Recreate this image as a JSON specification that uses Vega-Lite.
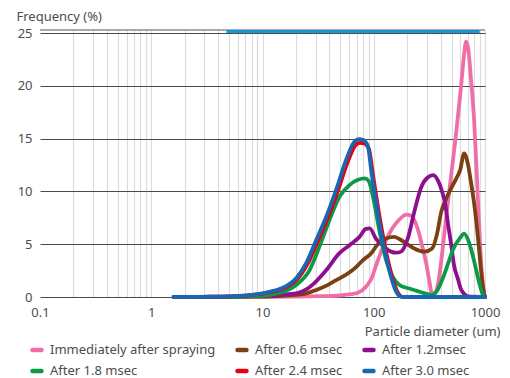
{
  "$schema": "https://vega.github.io/schema/vega-lite/v6.json",
  "width": 445,
  "height": 267,
  "autosize": {"type": "none"},
  "padding": {"left": 40, "top": 30, "right": 25, "bottom": 81},
  "background": "white",
  "config": {"view": {"stroke": null}, "font": "Noto Sans"},
  "datasets": {
    "frame": [{"d": 0.1, "d2": 1000, "f": 25.3}],
    "band": [{"d": 4.74, "d2": 896, "f": 25.15}],
    "curves": [
      {"s": "Immediately after spraying", "d": 1.6, "f": 0},
      {"s": "Immediately after spraying", "d": 10, "f": 0.01},
      {"s": "Immediately after spraying", "d": 20, "f": 0.03},
      {"s": "Immediately after spraying", "d": 35, "f": 0.08},
      {"s": "Immediately after spraying", "d": 46, "f": 0.12},
      {"s": "Immediately after spraying", "d": 60, "f": 0.25},
      {"s": "Immediately after spraying", "d": 72, "f": 0.4},
      {"s": "Immediately after spraying", "d": 85.5, "f": 1.0},
      {"s": "Immediately after spraying", "d": 95, "f": 1.7},
      {"s": "Immediately after spraying", "d": 105, "f": 3.0},
      {"s": "Immediately after spraying", "d": 116.5, "f": 4.3},
      {"s": "Immediately after spraying", "d": 129, "f": 5.4},
      {"s": "Immediately after spraying", "d": 143, "f": 6.3},
      {"s": "Immediately after spraying", "d": 159, "f": 7.0},
      {"s": "Immediately after spraying", "d": 176, "f": 7.5},
      {"s": "Immediately after spraying", "d": 195, "f": 7.8},
      {"s": "Immediately after spraying", "d": 217, "f": 7.7},
      {"s": "Immediately after spraying", "d": 240, "f": 6.9},
      {"s": "Immediately after spraying", "d": 251, "f": 6.3},
      {"s": "Immediately after spraying", "d": 267, "f": 5.2},
      {"s": "Immediately after spraying", "d": 296, "f": 3.2},
      {"s": "Immediately after spraying", "d": 315, "f": 1.6},
      {"s": "Immediately after spraying", "d": 335, "f": 0.3},
      {"s": "Immediately after spraying", "d": 356, "f": 0.4},
      {"s": "Immediately after spraying", "d": 379, "f": 1.3},
      {"s": "Immediately after spraying", "d": 403, "f": 3.3},
      {"s": "Immediately after spraying", "d": 447, "f": 7.5},
      {"s": "Immediately after spraying", "d": 496, "f": 11.5},
      {"s": "Immediately after spraying", "d": 550, "f": 15.5},
      {"s": "Immediately after spraying", "d": 610, "f": 20.0},
      {"s": "Immediately after spraying", "d": 649, "f": 23.0},
      {"s": "Immediately after spraying", "d": 676, "f": 24.2},
      {"s": "Immediately after spraying", "d": 705, "f": 23.6},
      {"s": "Immediately after spraying", "d": 750, "f": 20.5},
      {"s": "Immediately after spraying", "d": 798, "f": 16.8},
      {"s": "Immediately after spraying", "d": 849, "f": 11.0},
      {"s": "Immediately after spraying", "d": 903, "f": 5.0},
      {"s": "Immediately after spraying", "d": 961, "f": 1.0},
      {"s": "Immediately after spraying", "d": 1000, "f": 0},

      {"s": "After 0.6 msec", "d": 1.6, "f": 0},
      {"s": "After 0.6 msec", "d": 8, "f": 0.03},
      {"s": "After 0.6 msec", "d": 15, "f": 0.12},
      {"s": "After 0.6 msec", "d": 20, "f": 0.2},
      {"s": "After 0.6 msec", "d": 25, "f": 0.35},
      {"s": "After 0.6 msec", "d": 30.4, "f": 0.66},
      {"s": "After 0.6 msec", "d": 38, "f": 1.1},
      {"s": "After 0.6 msec", "d": 46, "f": 1.6},
      {"s": "After 0.6 msec", "d": 55, "f": 2.05},
      {"s": "After 0.6 msec", "d": 64.6, "f": 2.55},
      {"s": "After 0.6 msec", "d": 72, "f": 3.0},
      {"s": "After 0.6 msec", "d": 80, "f": 3.5},
      {"s": "After 0.6 msec", "d": 95, "f": 4.15},
      {"s": "After 0.6 msec", "d": 105, "f": 4.8},
      {"s": "After 0.6 msec", "d": 116.5, "f": 5.3},
      {"s": "After 0.6 msec", "d": 129, "f": 5.55},
      {"s": "After 0.6 msec", "d": 153, "f": 5.7},
      {"s": "After 0.6 msec", "d": 176, "f": 5.4},
      {"s": "After 0.6 msec", "d": 200, "f": 5.0},
      {"s": "After 0.6 msec", "d": 231, "f": 4.6},
      {"s": "After 0.6 msec", "d": 285, "f": 4.3},
      {"s": "After 0.6 msec", "d": 335, "f": 4.6},
      {"s": "After 0.6 msec", "d": 371, "f": 6.0},
      {"s": "After 0.6 msec", "d": 403, "f": 8.0},
      {"s": "After 0.6 msec", "d": 447, "f": 9.3},
      {"s": "After 0.6 msec", "d": 496, "f": 10.3},
      {"s": "After 0.6 msec", "d": 550, "f": 11.2},
      {"s": "After 0.6 msec", "d": 597, "f": 12.0},
      {"s": "After 0.6 msec", "d": 649, "f": 13.6},
      {"s": "After 0.6 msec", "d": 705, "f": 12.5},
      {"s": "After 0.6 msec", "d": 750, "f": 10.8},
      {"s": "After 0.6 msec", "d": 798, "f": 8.9},
      {"s": "After 0.6 msec", "d": 867, "f": 5.5},
      {"s": "After 0.6 msec", "d": 922, "f": 2.5},
      {"s": "After 0.6 msec", "d": 982, "f": 0.3},
      {"s": "After 0.6 msec", "d": 1000, "f": 0},

      {"s": "After 1.2msec", "d": 1.6, "f": 0},
      {"s": "After 1.2msec", "d": 5, "f": 0.02},
      {"s": "After 1.2msec", "d": 10, "f": 0.1},
      {"s": "After 1.2msec", "d": 15, "f": 0.22},
      {"s": "After 1.2msec", "d": 20.1, "f": 0.35},
      {"s": "After 1.2msec", "d": 25, "f": 0.75},
      {"s": "After 1.2msec", "d": 28.4, "f": 1.2},
      {"s": "After 1.2msec", "d": 37.4, "f": 2.55},
      {"s": "After 1.2msec", "d": 49.2, "f": 4.15},
      {"s": "After 1.2msec", "d": 60.5, "f": 4.9},
      {"s": "After 1.2msec", "d": 74.4, "f": 5.7},
      {"s": "After 1.2msec", "d": 85, "f": 6.45},
      {"s": "After 1.2msec", "d": 92, "f": 6.5},
      {"s": "After 1.2msec", "d": 105, "f": 5.5},
      {"s": "After 1.2msec", "d": 116.5, "f": 5.0},
      {"s": "After 1.2msec", "d": 129, "f": 4.6},
      {"s": "After 1.2msec", "d": 143, "f": 4.3},
      {"s": "After 1.2msec", "d": 159, "f": 4.2},
      {"s": "After 1.2msec", "d": 176, "f": 4.3},
      {"s": "After 1.2msec", "d": 203, "f": 5.6},
      {"s": "After 1.2msec", "d": 233, "f": 8.2},
      {"s": "After 1.2msec", "d": 267, "f": 10.4},
      {"s": "After 1.2msec", "d": 303, "f": 11.3},
      {"s": "After 1.2msec", "d": 343, "f": 11.55},
      {"s": "After 1.2msec", "d": 379, "f": 11.0},
      {"s": "After 1.2msec", "d": 411, "f": 10.0},
      {"s": "After 1.2msec", "d": 439, "f": 8.8},
      {"s": "After 1.2msec", "d": 467, "f": 6.8},
      {"s": "After 1.2msec", "d": 496, "f": 5.0},
      {"s": "After 1.2msec", "d": 527, "f": 3.0},
      {"s": "After 1.2msec", "d": 571, "f": 1.7},
      {"s": "After 1.2msec", "d": 610, "f": 0.7},
      {"s": "After 1.2msec", "d": 649, "f": 0.3},
      {"s": "After 1.2msec", "d": 705, "f": 0.05},
      {"s": "After 1.2msec", "d": 1000, "f": 0},

      {"s": "After 1.8 msec", "d": 1.6, "f": 0},
      {"s": "After 1.8 msec", "d": 5, "f": 0.02},
      {"s": "After 1.8 msec", "d": 10, "f": 0.12},
      {"s": "After 1.8 msec", "d": 13, "f": 0.3},
      {"s": "After 1.8 msec", "d": 16, "f": 0.55},
      {"s": "After 1.8 msec", "d": 20.1, "f": 1.14},
      {"s": "After 1.8 msec", "d": 26.5, "f": 2.55},
      {"s": "After 1.8 msec", "d": 32.5, "f": 4.77},
      {"s": "After 1.8 msec", "d": 40, "f": 7.3},
      {"s": "After 1.8 msec", "d": 49.2, "f": 9.5},
      {"s": "After 1.8 msec", "d": 60.5, "f": 10.6},
      {"s": "After 1.8 msec", "d": 72, "f": 11.1},
      {"s": "After 1.8 msec", "d": 82.6, "f": 11.25},
      {"s": "After 1.8 msec", "d": 90, "f": 11.0},
      {"s": "After 1.8 msec", "d": 98.5, "f": 9.5},
      {"s": "After 1.8 msec", "d": 112, "f": 6.35},
      {"s": "After 1.8 msec", "d": 129, "f": 3.5},
      {"s": "After 1.8 msec", "d": 148, "f": 1.9},
      {"s": "After 1.8 msec", "d": 170, "f": 1.14},
      {"s": "After 1.8 msec", "d": 209, "f": 0.8},
      {"s": "After 1.8 msec", "d": 240, "f": 0.6},
      {"s": "After 1.8 msec", "d": 267, "f": 0.45},
      {"s": "After 1.8 msec", "d": 296, "f": 0.3},
      {"s": "After 1.8 msec", "d": 335, "f": 0.2},
      {"s": "After 1.8 msec", "d": 371, "f": 0.6},
      {"s": "After 1.8 msec", "d": 411, "f": 1.6},
      {"s": "After 1.8 msec", "d": 467, "f": 3.2},
      {"s": "After 1.8 msec", "d": 516, "f": 4.5},
      {"s": "After 1.8 msec", "d": 597, "f": 5.6},
      {"s": "After 1.8 msec", "d": 649, "f": 6.0},
      {"s": "After 1.8 msec", "d": 705, "f": 5.4},
      {"s": "After 1.8 msec", "d": 765, "f": 4.2},
      {"s": "After 1.8 msec", "d": 815, "f": 3.0},
      {"s": "After 1.8 msec", "d": 885, "f": 1.4},
      {"s": "After 1.8 msec", "d": 942, "f": 0.4},
      {"s": "After 1.8 msec", "d": 1000, "f": 0},

      {"s": "After 2.4 msec", "d": 1.6, "f": 0},
      {"s": "After 2.4 msec", "d": 3, "f": 0.02},
      {"s": "After 2.4 msec", "d": 5, "f": 0.06},
      {"s": "After 2.4 msec", "d": 8, "f": 0.18},
      {"s": "After 2.4 msec", "d": 10, "f": 0.32},
      {"s": "After 2.4 msec", "d": 13, "f": 0.55},
      {"s": "After 2.4 msec", "d": 16.2, "f": 0.9},
      {"s": "After 2.4 msec", "d": 20.6, "f": 1.7},
      {"s": "After 2.4 msec", "d": 25.3, "f": 3.1},
      {"s": "After 2.4 msec", "d": 31.2, "f": 5.2},
      {"s": "After 2.4 msec", "d": 38.3, "f": 7.4},
      {"s": "After 2.4 msec", "d": 47, "f": 9.9},
      {"s": "After 2.4 msec", "d": 57.9, "f": 12.7},
      {"s": "After 2.4 msec", "d": 68.7, "f": 14.4},
      {"s": "After 2.4 msec", "d": 75.3, "f": 14.6},
      {"s": "After 2.4 msec", "d": 82, "f": 14.55},
      {"s": "After 2.4 msec", "d": 90.7, "f": 14.0},
      {"s": "After 2.4 msec", "d": 97.4, "f": 11.9},
      {"s": "After 2.4 msec", "d": 107.6, "f": 8.9},
      {"s": "After 2.4 msec", "d": 120, "f": 6.0},
      {"s": "After 2.4 msec", "d": 132, "f": 3.8},
      {"s": "After 2.4 msec", "d": 146.6, "f": 1.9},
      {"s": "After 2.4 msec", "d": 163, "f": 0.5},
      {"s": "After 2.4 msec", "d": 180, "f": 0.02},
      {"s": "After 2.4 msec", "d": 200, "f": 0},
      {"s": "After 2.4 msec", "d": 1000, "f": 0},

      {"s": "After 3.0 msec", "d": 1.58, "f": 0},
      {"s": "After 3.0 msec", "d": 3, "f": 0.02},
      {"s": "After 3.0 msec", "d": 5, "f": 0.06},
      {"s": "After 3.0 msec", "d": 8, "f": 0.2},
      {"s": "After 3.0 msec", "d": 10, "f": 0.35},
      {"s": "After 3.0 msec", "d": 12.8, "f": 0.6},
      {"s": "After 3.0 msec", "d": 15.8, "f": 0.95},
      {"s": "After 3.0 msec", "d": 20.1, "f": 1.77},
      {"s": "After 3.0 msec", "d": 24.7, "f": 3.2},
      {"s": "After 3.0 msec", "d": 30.4, "f": 5.4},
      {"s": "After 3.0 msec", "d": 37.4, "f": 7.6},
      {"s": "After 3.0 msec", "d": 45.9, "f": 10.15},
      {"s": "After 3.0 msec", "d": 56.5, "f": 13.0},
      {"s": "After 3.0 msec", "d": 67, "f": 14.7},
      {"s": "After 3.0 msec", "d": 73.5, "f": 14.95},
      {"s": "After 3.0 msec", "d": 80, "f": 14.9},
      {"s": "After 3.0 msec", "d": 88.5, "f": 14.3},
      {"s": "After 3.0 msec", "d": 95, "f": 12.0},
      {"s": "After 3.0 msec", "d": 105, "f": 8.9},
      {"s": "After 3.0 msec", "d": 117, "f": 6.0},
      {"s": "After 3.0 msec", "d": 129, "f": 3.8},
      {"s": "After 3.0 msec", "d": 143, "f": 1.9},
      {"s": "After 3.0 msec", "d": 159, "f": 0.5},
      {"s": "After 3.0 msec", "d": 176, "f": 0.02},
      {"s": "After 3.0 msec", "d": 200, "f": 0},
      {"s": "After 3.0 msec", "d": 1000, "f": 0}
    ]
  },
  "encoding": {
    "x": {
      "field": "d",
      "type": "quantitative",
      "scale": {"type": "log", "domain": [0.1, 1000], "nice": false},
      "axis": {
        "values": [0.1, 0.2, 0.3, 0.4, 0.5, 0.6, 0.7, 0.8, 0.9, 1, 2, 3, 4, 5, 6, 7, 8, 9, 10, 20, 30, 40, 50, 60, 70, 80, 90, 100, 200, 300, 400, 500, 600, 700, 800, 900, 1000],
        "labelExpr": "datum.value == 0.1 ? '0.1' : datum.value == 1 ? '1' : datum.value == 10 ? '10' : datum.value == 100 ? '100' : datum.value == 1000 ? '1000' : ''",
        "grid": true,
        "gridColor": "#dcdcdc",
        "gridWidth": 1.2,
        "gridOpacity": {"condition": {"test": "datum.value == 0.1", "value": 0}, "value": 1},
        "ticks": false,
        "tickSize": 0,
        "domain": false,
        "labelBaseline": "alphabetic",
        "labelPadding": 19,
        "labelFontSize": 13,
        "labelColor": "#4d4d4d",
        "labelFlush": false,
        "labelOverlap": false,
        "title": "Particle diameter (um)",
        "titleFontSize": 13,
        "titleFontWeight": "normal",
        "titleColor": "#4d4d4d",
        "titleX": 460,
        "titleY": 38,
        "titleAlign": "right",
        "titleBaseline": "alphabetic"
      }
    },
    "y": {
      "field": "f",
      "type": "quantitative",
      "scale": {"domain": [0, 25.3], "nice": false},
      "axis": {
        "values": [0, 5, 10, 15, 20, 25],
        "grid": true,
        "gridColor": "#4a4a4a",
        "gridWidth": 1.2,
        "ticks": false,
        "tickSize": 0,
        "domain": false,
        "labelPadding": 8,
        "labelFontSize": 13,
        "labelColor": "#4d4d4d",
        "title": "Frequency (%)",
        "titleAngle": 0,
        "titleAlign": "left",
        "titleBaseline": "alphabetic",
        "titleX": -24,
        "titleY": -10,
        "titleFontSize": 13,
        "titleFontWeight": "normal",
        "titleColor": "#4d4d4d"
      }
    }
  },
  "layer": [
    {
      "data": {"name": "frame"},
      "mark": {"type": "rule", "color": "#555555", "strokeWidth": 1.2},
      "encoding": {"x2": {"field": "d2"}}
    },
    {
      "data": {"name": "band"},
      "mark": {"type": "rule", "color": "#1a96d4", "strokeWidth": 3},
      "encoding": {"x2": {"field": "d2"}}
    },
    {
      "data": {"name": "curves"},
      "mark": {"type": "line", "interpolate": "monotone", "strokeWidth": 3.8, "strokeCap": "round", "strokeJoin": "round"},
      "encoding": {
        "color": {
          "field": "s",
          "type": "nominal",
          "scale": {
            "domain": ["Immediately after spraying", "After 0.6 msec", "After 1.2msec", "After 1.8 msec", "After 2.4 msec", "After 3.0 msec"],
            "range": ["#ef6ea6", "#7b3f10", "#8e0f8e", "#0c9a48", "#e60012", "#1967b3"]
          },
          "legend": {
            "title": null,
            "orient": "none",
            "legendX": -10,
            "legendY": 313,
            "direction": "horizontal",
            "columns": 3,
            "symbolType": "stroke",
            "symbolSize": 80,
            "symbolStrokeWidth": 4.5,
            "labelFontSize": 13,
            "labelColor": "#4d4d4d",
            "labelOffset": 6,
            "labelLimit": 300,
            "columnPadding": 12,
            "rowPadding": 3,
            "encode": {"symbols": {"update": {"strokeCap": {"value": "round"}}}}
          }
        }
      }
    }
  ]
}
